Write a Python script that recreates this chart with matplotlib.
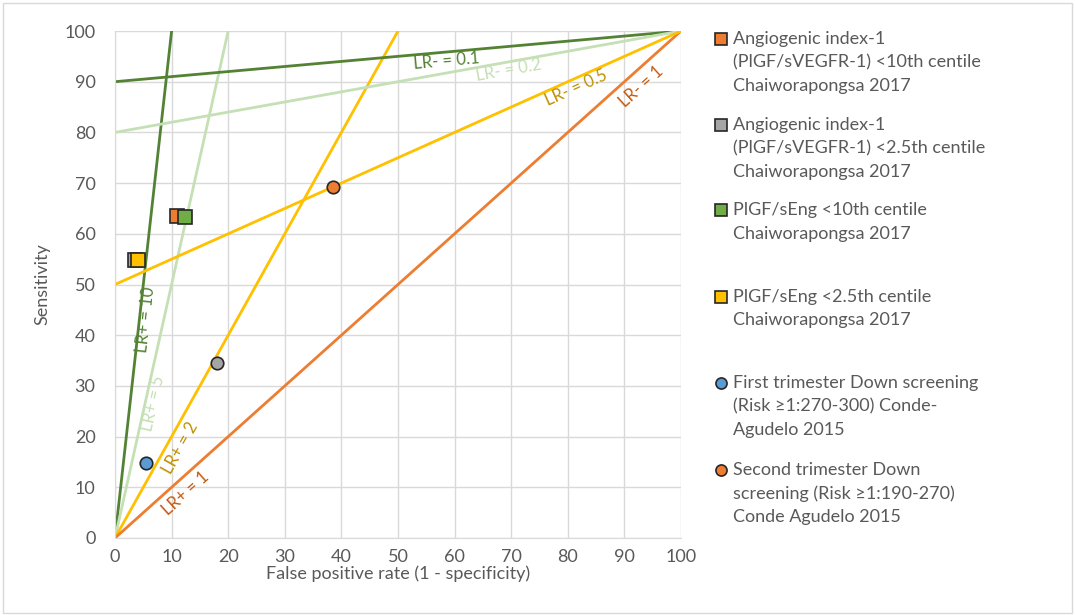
import numpy as np
import matplotlib
matplotlib.use("Agg")
import matplotlib.pyplot as plt
from matplotlib.lines import Line2D
from matplotlib.patches import Rectangle

plt.rcParams['font.family'] = ['Lato', 'DejaVu Sans']

# likelihood ratio reference lines
lr_pos = [10, 5, 2, 1]
lr_neg = [0.1, 0.2, 0.5]
lr_pos_colors = ['#548235', '#C5E0B4', '#FFC000', '#ED7D31']
lr_neg_colors = ['#548235', '#C5E0B4', '#FFC000']
lr_pos_label_colors = ['#548235', '#C5E0B4', '#BF9000', '#C55A11']
lr_neg_label_colors = ['#548235', '#C5E0B4', '#BF9000', '#C55A11']
lr_pos_label_pos = [(5.4, 43), (6.7, 26.5), (11.6, 17.8), (12.4, 8.8)]
lr_neg_labels = ['LR- = 0.1', 'LR- = 0.2', 'LR- = 0.5', 'LR- = 1']
lr_neg_label_pos = [(58.5, 94.0), (69.5, 92.2), (81.5, 88.8), (93.0, 89.0)]

# studies: fpr, sensitivity
series_names = [
    "Angiogenic index-1\n(PlGF/sVEGFR-1) <10th centile\nChaiworapongsa 2017",
    "Angiogenic index-1\n(PlGF/sVEGFR-1) <2.5th centile\nChaiworapongsa 2017",
    "PlGF/sEng <10th centile\nChaiworapongsa 2017",
    "PlGF/sEng <2.5th centile\nChaiworapongsa 2017",
    "First trimester Down screening\n(Risk \u22651:270-300) Conde-\nAgudelo 2015",
    "Second trimester Down\nscreening (Risk \u22651:190-270)\nConde Agudelo 2015",
]
series_fpr = [11.0, 3.6, 12.4, 4.1, 5.5, 38.5]
series_sens = [63.6, 54.8, 63.3, 54.8, 14.8, 69.2]
series_colors = ['#ED7D31', '#A5A5A5', '#70AD47', '#FFC000', '#5B9BD5', '#ED7D31']
series_markers = ['s', 's', 's', 's', 'o', 'o']
legend_y_px = [39, 125, 210, 297, 383, 470]

# extra point without a legend entry
extra_fpr = [18.0]
extra_sens = [34.5]

fig = plt.figure(figsize=(10.75, 6.15), dpi=100)
ax = fig.add_axes([115 / 1075, 1 - 538 / 615, (681 - 115) / 1075, (538 - 31) / 615])
fig.patches.append(Rectangle((0.003, 0.003), 0.994, 0.992, transform=fig.transFigure,
                             fill=False, edgecolor='#D9D9D9', lw=1))

ax.set_xlim(0, 100)
ax.set_ylim(0, 100)
ax.set_xticks(np.arange(0, 101, 10))
ax.set_yticks(np.arange(0, 101, 10))
ax.grid(True, color='#D9D9D9', lw=1)
ax.set_axisbelow(True)
for s in ['top', 'right']:
    ax.spines[s].set_visible(False)
for s in ['left', 'bottom']:
    ax.spines[s].set_color('#D9D9D9')
ax.tick_params(axis='x', length=0, labelsize=13, labelcolor='#595959', pad=8)
ax.tick_params(axis='y', length=0, labelsize=13, labelcolor='#595959', pad=14)
ax.set_xlabel('False positive rate (1 - specificity)', fontsize=13, color='#595959', labelpad=0)
ax.set_ylabel('Sensitivity', fontsize=13, color='#595959', labelpad=10)

# LR+ lines: sens = k * fpr
for k, c, lc, (tx, ty) in zip(lr_pos, lr_pos_colors, lr_pos_label_colors, lr_pos_label_pos):
    x_end = min(100, 100 / k)
    ax.plot([0, x_end], [0, k * x_end], color=c, lw=2, zorder=2)
    ang = np.degrees(np.arctan2(k, 1))
    ax.text(tx, ty, f'LR+ = {k}', color=lc, fontsize=12, rotation=ang,
            transform_rotates_text=True, rotation_mode='anchor', ha='center', va='center')

# LR- lines: sens = 100 - k * (100 - fpr)
for k, c in zip(lr_neg, lr_neg_colors):
    ax.plot([0, 100], [100 - 100 * k, 100], color=c, lw=2, zorder=2)
lr_neg_all = lr_neg + [1]
for k, lab, lc, (tx, ty) in zip(lr_neg_all, lr_neg_labels, lr_neg_label_colors, lr_neg_label_pos):
    ang = np.degrees(np.arctan2(k, 1))
    ax.text(tx, ty, lab, color=lc, fontsize=12, rotation=ang,
            transform_rotates_text=True, rotation_mode='anchor', ha='center', va='center')

ax.plot(extra_fpr, extra_sens, 'o', color='#A5A5A5', mec='#262626', mew=1.2, ms=9, zorder=4)
for x, y, c, m in zip(series_fpr, series_sens, series_colors, series_markers):
    ax.plot([x], [y], m, color=c, mec='#262626', mew=1.2, ms=9.5 if m == 's' else 9, zorder=4)

# manual legend, one text per line
line_step = 23.5
for name, c, m, ypx in zip(series_names, series_colors, series_markers, legend_y_px):
    fig.lines.append(Line2D([721 / 1075], [1 - ypx / 615], marker=m, color=c, mec='#262626',
                            mew=1.2, ms=8, transform=fig.transFigure))
    for i, line in enumerate(name.split('\n')):
        fig.text(733 / 1075, 1 - (ypx + i * line_step) / 615, line, fontsize=13,
                 color='#595959', va='center', ha='left')

fig.savefig('out.png', dpi=100)
